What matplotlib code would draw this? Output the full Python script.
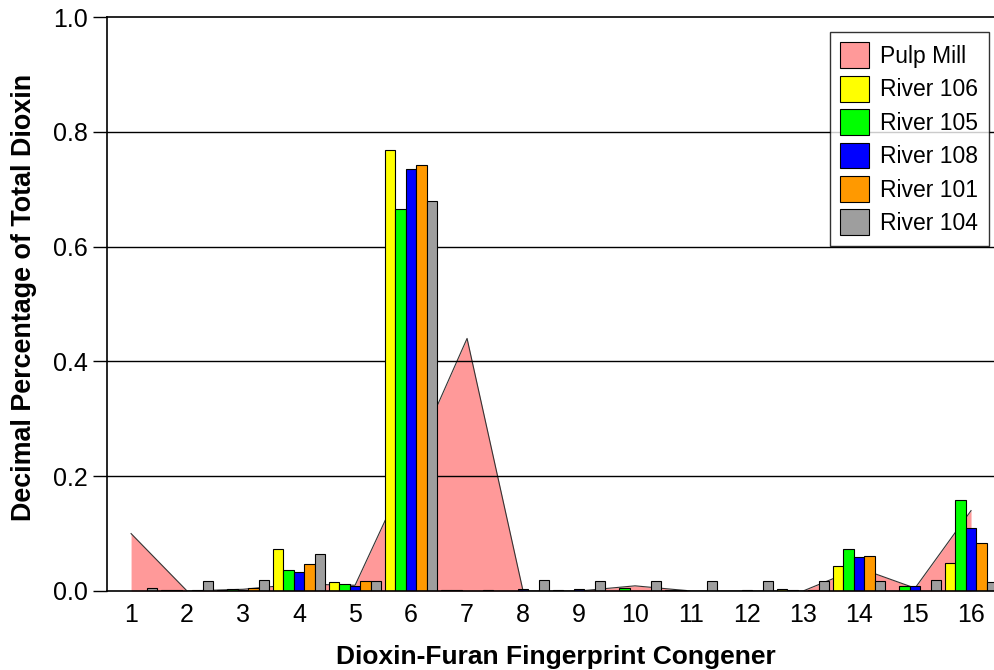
import numpy as np
import matplotlib
matplotlib.use('Agg')
import matplotlib.pyplot as plt

plt.rcParams['font.family'] = ['Liberation Sans', 'DejaVu Sans']

# Congener positions
congeners = np.arange(1, 17)
tick_labels = [str(c) for c in congeners]

# Pulp mill fingerprint (drawn as area)
pulp_mill = [0.10, 0.0, 0.003, 0.012, 0.01, 0.22, 0.44, 0.0,
             0.0, 0.009, 0.0, 0.0, 0.0, 0.04, 0.005, 0.14]

# River stations (drawn as bars)
river_106 = [0.0, 0.002, 0.001, 0.074, 0.015, 0.768, 0.001, 0.0,
             0.001, 0.0, 0.001, 0.0, 0.004, 0.044, 0.0, 0.049]
river_105 = [0.0, 0.002, 0.003, 0.036, 0.012, 0.665, 0.002, 0.0,
             0.0, 0.005, 0.001, 0.0, 0.002, 0.074, 0.008, 0.158]
river_108 = [0.0, 0.0, 0.001, 0.033, 0.008, 0.735, 0.0, 0.004,
             0.004, 0.0, 0.0, 0.001, 0.0, 0.060, 0.008, 0.110]
river_101 = [0.0, 0.001, 0.006, 0.047, 0.018, 0.742, 0.0, 0.0,
             0.0, 0.0, 0.0, 0.0, 0.001, 0.061, 0.0, 0.084]
river_104 = [0.005, 0.018, 0.019, 0.065, 0.018, 0.680, 0.001, 0.019,
             0.018, 0.018, 0.018, 0.018, 0.018, 0.018, 0.019, 0.015]

series_names = ['River 106', 'River 105', 'River 108', 'River 101', 'River 104']
series_vals = [river_106, river_105, river_108, river_101, river_104]
series_cols = ['#FFFF00', '#00FF00', '#0000FF', '#FF9900', '#9E9E9E']

fig = plt.figure(figsize=(9.94, 6.70), dpi=100)
ax = fig.add_axes([107 / 994, (670 - 591) / 670, (994 - 107) / 994, (591 - 17) / 670])

# area for the pulp mill
ax.fill_between(congeners, pulp_mill, 0, color='#FF9999', lw=0, zorder=1,
                label='Pulp Mill')
ax.plot(congeners, pulp_mill, color='#333333', lw=0.8, zorder=1.2)

# horizontal grid lines
for yv in [0.2, 0.4, 0.6, 0.8]:
    ax.axhline(yv, color='black', lw=1.0, zorder=1.5)

# grouped bars
w = 0.186
for k, (name, vals, col) in enumerate(zip(series_names, series_vals, series_cols)):
    ax.bar(congeners + (k - 2) * w, vals, width=w, color=col, edgecolor='black',
           linewidth=0.8, zorder=2, label=name)

ax.set_xlim(0.57, 16.41)
ax.set_ylim(0, 1.0)
ax.set_xticks(congeners)
ax.set_xticklabels(tick_labels)
ax.set_yticks([0.0, 0.2, 0.4, 0.6, 0.8, 1.0])
ax.set_yticklabels(['0.0', '0.2', '0.4', '0.6', '0.8', '1.0'])
ax.tick_params(axis='x', length=0, labelsize=18, pad=9)
ax.tick_params(axis='y', direction='out', length=10, width=1, labelsize=18, pad=4)
ax.spines['right'].set_visible(False)
for s in ['left', 'top', 'bottom']:
    ax.spines[s].set_linewidth(1.2)

ax.set_xlabel('Dioxin-Furan Fingerprint Congener', fontsize=19, fontweight='bold',
              labelpad=12.5)
ax.xaxis.label.set_x(0.506)
ax.set_ylabel('Decimal Percentage of Total Dioxin', fontsize=19.4, fontweight='bold',
              labelpad=11)
ax.yaxis.label.set_y(0.512)

handles, labels = ax.get_legend_handles_labels()
leg = ax.legend(handles, labels, loc='upper right', bbox_to_anchor=(0.994, 0.974),
                fontsize=16.5, frameon=True, fancybox=False, edgecolor='black',
                handlelength=1.25, handleheight=1.36, handletextpad=0.5,
                borderpad=0.45, labelspacing=0.33, borderaxespad=0)
leg.get_frame().set_linewidth(1.0)
for h in leg.legend_handles:
    h.set_edgecolor('black')
    h.set_linewidth(0.8)
leg.set_zorder(5)

plt.savefig('out.png', dpi=100)
